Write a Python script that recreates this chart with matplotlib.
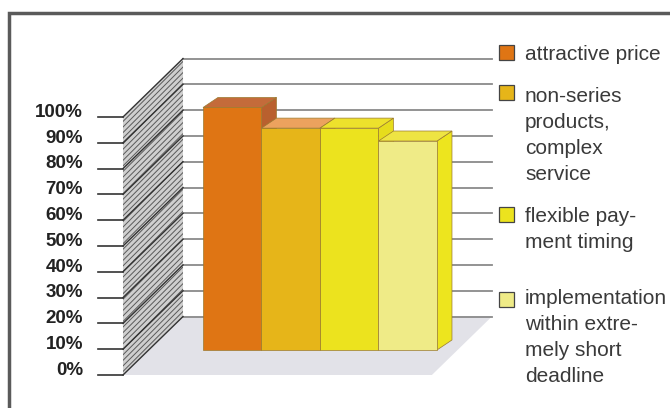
import matplotlib
matplotlib.use("Agg")
import matplotlib.pyplot as plt
from matplotlib.patches import Polygon, Rectangle

plt.rcParams['font.family'] = ['Liberation Sans', 'DejaVu Sans']
plt.rcParams['hatch.linewidth'] = 0.7

# data
categories = ["attractive price",
              "non-series\nproducts,\ncomplex\nservice",
              "flexible pay-\nment timing",
              "implementation\nwithin extre-\nmely short\ndeadline"]
values = [94, 86, 86, 81]
ticks = [0, 10, 20, 30, 40, 50, 60, 70, 80, 90, 100]
tick_labels = ["0%", "10%", "20%", "30%", "40%", "50%", "60%", "70%", "80%", "90%", "100%"]

front_col = ["#df7514", "#e6b519", "#ece31e", "#efeb87"]
top_col = ["#c46b3a", "#eca25e", "#ede12c", "#eee443"]
side_col = ["#b9602e", "#e59a50", "#e6dc1c", "#ede51e"]

# pseudo 3d layout (x in bar widths, y in percent)
W, H = 670, 408
PX_X, PX_Y = 58.5, 2.58
OX, OY = 177.4, 375.0
XL, XR = -0.93, 4.35          # floor front edge
DX, DY = 1.026, 22.67         # wall depth
BX, BY = 0.4376, 9.69         # bar plane shift
BDX, BDY = 0.256, 3.88        # bar depth

fig = plt.figure(figsize=(W / 100, H / 100), dpi=100)
ax = fig.add_axes([0, 0, 1, 1])
ax.set_xlim(-OX / PX_X, (W - OX) / PX_X)
ax.set_ylim((OY - H) / PX_Y, OY / PX_Y)
ax.axis('off')

# floor
ax.add_patch(Polygon([(XL, 0), (XR, 0), (XR + DX, DY), (XL + DX, DY)],
                     closed=True, fc="#e2e2e8", ec="none", zorder=1))

# back wall grid
for v in ticks:
    ax.plot([XL + DX, XR + DX], [v + DY, v + DY], color="#8a8a8a", lw=1.3, zorder=2)

# side wall
ax.add_patch(Polygon([(XL, 0), (XL, 100), (XL + DX, 100 + DY), (XL + DX, DY)],
                     closed=True, fc="#cfcfcf", ec="#5a5a5a", lw=0, hatch="//////",
                     zorder=3))
for v in ticks:
    ax.plot([XL, XL + DX], [v, v + DY], color="#333333", lw=1.0, zorder=4)
    ax.plot([XL - 25 / PX_X, XL], [v, v], color="#333333", lw=1.2, zorder=4)
    ax.text(XL - 40 / PX_X, v + 1.8, tick_labels[ticks.index(v)], ha="right",
            va="center", fontsize=13.5, fontweight="bold", color="#222222")

# bars
for i, v in enumerate(values):
    x0, x1 = i + BX, i + 1 + BX
    b, t = BY, BY + v
    ax.add_patch(Polygon([(x1, b), (x1, t), (x1 + BDX, t + BDY), (x1 + BDX, b + BDY)],
                         closed=True, fc=side_col[i], ec="#9a7a30", lw=0.5, zorder=5 + i))
    ax.add_patch(Polygon([(x0, t), (x1, t), (x1 + BDX, t + BDY), (x0 + BDX, t + BDY)],
                         closed=True, fc=top_col[i], ec="#9a7a30", lw=0.5, zorder=5 + i))
    ax.add_patch(Rectangle((x0, b), 1, v, fc=front_col[i], ec="#9a7a30", lw=0.5,
                           zorder=5 + i))

# legend
box_y = [52, 92, 215, 299]
text_y = [53, 95, 215, 297]
for i, lab in enumerate(categories):
    fig.patches.append(Rectangle((499 / W, 1 - (box_y[i] + 7.5) / H), 15 / W, 15 / H,
                                 transform=fig.transFigure, fc=front_col[i],
                                 ec="#444444", lw=0.9))
    fig.text(525 / W, 1 - (text_y[i] - 8) / H, lab, ha="left", va="top",
             fontsize=15.0, color="#3a3a3a", linespacing=1.47)

# frame (top and left only visible)
fig.patches.append(Rectangle((8.5 / W, -0.1), 1.2, 1 - 12.5 / H + 0.1,
                             transform=fig.transFigure, fill=False,
                             ec="#5a5a5a", lw=2.5))

fig.savefig("out.png", dpi=100, facecolor="white")
